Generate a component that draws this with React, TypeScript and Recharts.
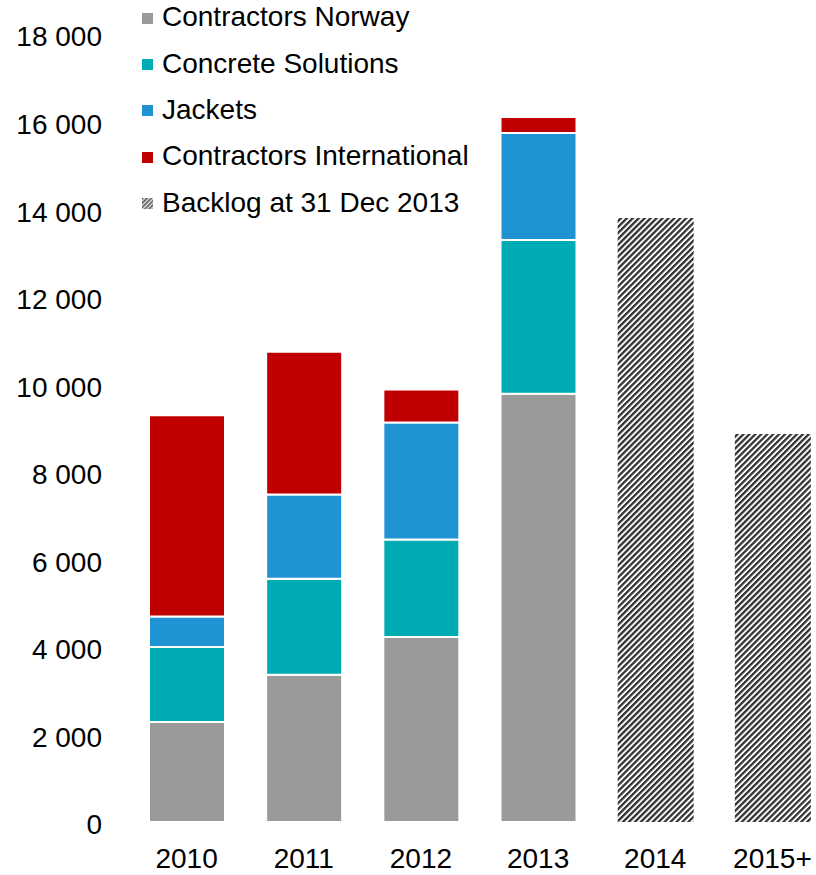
import { BarChart, Bar, XAxis, YAxis } from "recharts"

const years = ["2010", "2011", "2012", "2013", "2014", "2015+"]
const contractorsNorway = [2283, 3363, 4224, 9785, null, null]
const concreteSolutions = [1712, 2192, 2228, 3510, null, null]
const jackets = [699, 1924, 2671, 2442, null, null]
const contractorsInternational = [4598, 3265, 754, 366, null, null]
const backlog = [null, null, null, null, 13797, 8865]
const yTicks = [0, 2000, 4000, 6000, 8000, 10000, 12000, 14000, 16000, 18000]

const data = years.map((year, i) => ({
  year,
  norway: contractorsNorway[i],
  concrete: concreteSolutions[i],
  jackets: jackets[i],
  international: contractorsInternational[i],
  backlog: backlog[i],
}))

const font = "'Liberation Sans', Arial, sans-serif"

const series = [
  { key: "norway", name: "Contractors Norway", color: "#9a9a9a" },
  { key: "concrete", name: "Concrete Solutions", color: "#00acb4" },
  { key: "jackets", name: "Jackets", color: "#1f93d4" },
  { key: "international", name: "Contractors International", color: "#c00000" },
]

const fmt = (v: number) => String(v).replace(/\B(?=(\d{3})+(?!\d))/g, " ")

// legend sits over the chart, like in the slide
function LegendBox() {
  const items = [...series.map((s) => ({ name: s.name, fill: s.color })), { name: "Backlog at 31 Dec 2013", fill: "url(#hatchSmall)" }]
  return (
    <div style={{ position: "absolute", left: 142, top: -6, fontFamily: font, fontSize: 28, color: "#000" }}>
      <svg width={0} height={0} style={{ position: "absolute" }}>
        <defs>
          <pattern id="hatchSmall" patternUnits="userSpaceOnUse" width={3} height={3} patternTransform="rotate(45)">
            <rect width={3} height={3} fill="#e0e0e0" />
            <rect width={1.5} height={3} fill="#555" />
          </pattern>
        </defs>
      </svg>
      {items.map((it) => (
        <div key={it.name} style={{ height: 46.4, display: "flex", alignItems: "center", whiteSpace: "nowrap" }}>
          <svg width={11} height={11} style={{ marginRight: 9, marginTop: 2 }}>
            <rect width={11} height={11} fill={it.fill} />
          </svg>
          <span>{it.name}</span>
        </div>
      ))}
    </div>
  )
}

export default function App() {
  return (
    <div style={{ position: "fixed", left: 0, top: 0, width: 816, height: 875, overflow: "hidden", background: "#fff" }}>
      <BarChart width={840} height={875} data={data} margin={{ top: 34, right: 9, left: 18, bottom: 8 }} barSize={76}>
        <defs>
          <pattern id="hatch" patternUnits="userSpaceOnUse" width={4.2} height={4.2} patternTransform="rotate(45)">
            <rect width={4.2} height={4.2} fill="#ffffff" />
            <rect width={2.3} height={4.2} fill="#333333" />
          </pattern>
        </defs>
        <XAxis
          dataKey="year"
          axisLine={false}
          tickLine={false}
          tickSize={0}
          tickMargin={26}
          height={45}
          interval={0}
          tick={{ fill: "#000", fontSize: 28, fontFamily: font }}
        />
        <YAxis
          domain={[0, 18000]}
          ticks={yTicks}
          interval={0}
          axisLine={false}
          tickLine={false}
          tickSize={0}
          tickMargin={26}
          width={110}
          tickFormatter={fmt}
          tick={{ fill: "#000", fontSize: 28, fontFamily: font, dy: 2.5 }}
        />
        {series.map((s) => (
          <Bar
            key={s.key}
            dataKey={s.key}
            name={s.name}
            stackId="a"
            fill={s.color}
            stroke="#ffffff"
            strokeWidth={2}
            isAnimationActive={false}
          />
        ))}
        <Bar dataKey="backlog" name="Backlog at 31 Dec 2013" stackId="a" fill="url(#hatch)" isAnimationActive={false} />
      </BarChart>
      <LegendBox />
    </div>
  )
}
